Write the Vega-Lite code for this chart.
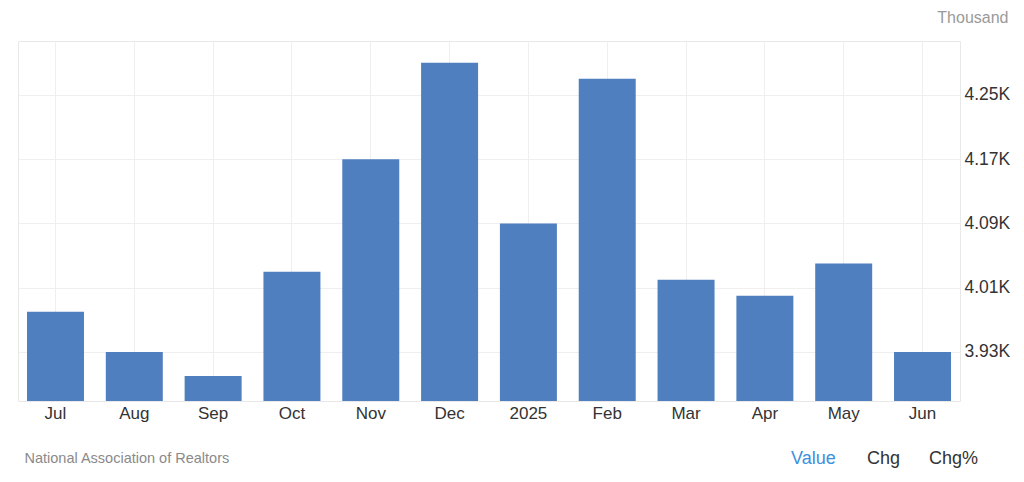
{
  "$schema": "https://vega.github.io/schema/vega-lite/v6.json",
  "autosize": {"type": "none"},
  "width": 942,
  "height": 360,
  "padding": {"left": 18, "top": 41, "right": 64, "bottom": 81},
  "background": "white",
  "config": {
    "font": "Liberation Sans",
    "view": {"stroke": "#e8e8e8", "strokeWidth": 1}
  },
  "datasets": {
    "sales": [
      {"month": "Jul", "value": 3980},
      {"month": "Aug", "value": 3930},
      {"month": "Sep", "value": 3900},
      {"month": "Oct", "value": 4030},
      {"month": "Nov", "value": 4170},
      {"month": "Dec", "value": 4290},
      {"month": "2025", "value": 4090},
      {"month": "Feb", "value": 4270},
      {"month": "Mar", "value": 4020},
      {"month": "Apr", "value": 4000},
      {"month": "May", "value": 4040},
      {"month": "Jun", "value": 3930}
    ],
    "buttons": [
      {"label": "Value"},
      {"label": "Chg"},
      {"label": "Chg%"}
    ]
  },
  "layer": [
    {
      "data": {"name": "sales"},
      "mark": {"type": "bar", "color": "#4f7fbf", "clip": true},
      "encoding": {
        "x": {
          "field": "month",
          "type": "ordinal",
          "sort": null,
          "scale": {"paddingInner": 0.277, "paddingOuter": 0.114},
          "axis": {
            "title": "National Association of Realtors",
            "titleX": 6,
            "titleY": 57,
            "titleAlign": "left",
            "titleAnchor": null,
            "titleBaseline": "middle",
            "titleFontSize": 14.5,
            "titleFontWeight": "normal",
            "titleColor": "#8a8a8a",
            "labelAngle": 0,
            "labelFontSize": 17,
            "labelColor": "#333333",
            "labelPadding": 4,
            "ticks": false,
            "domain": false,
            "grid": true,
            "gridColor": "#efefef"
          }
        },
        "y": {
          "field": "value",
          "type": "quantitative",
          "scale": {"domain": [3869, 4317], "nice": false, "zero": false},
          "axis": {
            "orient": "right",
            "values": [3930, 4010, 4090, 4170, 4250],
            "labelExpr": "format(datum.value / 1000, '.2f') + 'K'",
            "labelFontSize": 17.5,
            "labelColor": "#333333",
            "labelPadding": 4,
            "ticks": false,
            "domain": false,
            "gridColor": "#efefef",
            "title": "Thousand",
            "titleAngle": 0,
            "titleX": 48,
            "titleY": -24,
            "titleAlign": "right",
            "titleBaseline": "middle",
            "titleFontSize": 16,
            "titleFontWeight": "normal",
            "titleColor": "#9a9a9a"
          }
        }
      }
    },
    {
      "data": {"name": "buttons"},
      "transform": [{"filter": "datum.label === 'Value'"}],
      "mark": {"type": "point", "opacity": 0},
      "encoding": {
        "color": {
          "field": "label",
          "type": "nominal",
          "scale": {"domain": ["Value"], "range": ["#3d8fe0"]},
          "legend": {
            "title": null,
            "orient": "none",
            "direction": "horizontal",
            "legendX": 755,
            "legendY": 409,
            "symbolSize": 0,
            "symbolOpacity": 0,
            "symbolStrokeWidth": 0,
            "labelOffset": 0,
            "labelFontSize": 18,
            "labelColor": "#3d8fe0"
          }
        }
      }
    },
    {
      "data": {"name": "buttons"},
      "transform": [{"filter": "datum.label !== 'Value'"}],
      "mark": {"type": "point", "opacity": 0},
      "encoding": {
        "shape": {
          "field": "label",
          "type": "nominal",
          "sort": null,
          "scale": {"domain": ["Chg", "Chg%"]},
          "legend": {
            "title": null,
            "orient": "none",
            "direction": "horizontal",
            "legendX": 831,
            "legendY": 409,
            "gridAlign": "none",
            "symbolSize": 0,
            "symbolOpacity": 0,
            "symbolStrokeWidth": 0,
            "labelOffset": 0,
            "labelFontSize": 18,
            "labelColor": "#333333",
            "columnPadding": 10
          }
        }
      }
    }
  ]
}
